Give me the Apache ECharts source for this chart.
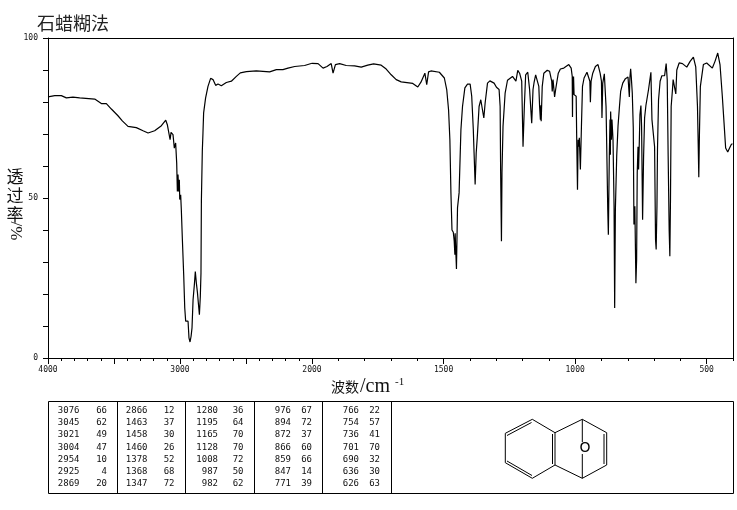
<!DOCTYPE html>
<html lang="zh">
<head>
    <meta charset="UTF-8">
    <title>石蜡糊法</title>
    <script src="https://cdn.jsdelivr.net/npm/echarts@6/dist/echarts.min.js"></script>
    <style>
        *{ margin: 0; padding: 0; }
        body{ background: #fff; }
        #chart{ width: 737px; height: 510px; }
    </style>
</head>
<body>
<div id="chart"></div>
<script>
    // [wavenumber, %T], 4000-2000 part of the axis
    var spectrumHigh = [
        [4000,81.6],[3949,82],[3899,82],[3861,81.3],[3811,81.5],[3760,81.3],[3646,80.9],[3596,79.5],[3558,79.5],
        [3520,77.8],[3470,75.7],[3437,74.1],[3394,72.4],[3331,72],[3280,71],[3242,70.3],[3192,71],[3141,72.6],
        [3128,72.9],[3108,74.3],[3096,72.9],[3083,72.6],[3075,68.2],[3068,70.5],[3053,69.8],[3043,65.6],[3033,67.2],
        [3025,60.9],[3020,52],[3015,57.3],[3010,52],[3005,55.7],[3002,49.5],[2995,51],[2990,46.4],[2982,37],
        [2972,26],[2964,15.6],[2957,11.5],[2947,10.9],[2939,11.5],[2932,6.3],[2924,5],[2916,6.8],[2909,9.4],
        [2901,18.2],[2891,23],[2884,27],[2878,27.6],[2876,23.4],[2868,20.5],[2861,17.2],[2853,13.5],[2846,19.3],
        [2841,26.6],[2838,49],[2831,64.6],[2826,70.3],[2821,76.6],[2806,81.3],[2788,84.9],[2768,87.4],[2750,87],
        [2730,85.2],[2712,85.6],[2687,85.1],[2649,86.1],[2611,86.5],[2573,88],[2543,89.1],[2497,89.5],[2422,89.7],
        [2321,89.4],[2270,90.1],[2220,90.1],[2182,90.6],[2131,91.1],[2056,91.4],[2000,92.1]
    ];
    // 2000-400 part of the axis, twice as wide per wavenumber
    var spectrumLow = [
        [2000,92.1],[1977,92],[1958,90.6],[1943,91.1],[1927,92],[1920,89],[1911,91.7],[1895,92],[1870,91.4],
        [1838,91.3],[1813,90.9],[1788,91.5],[1766,91.9],[1737,91.5],[1718,90.3],[1699,88.5],[1680,87],[1661,86.3],
        [1617,85.8],[1598,84.7],[1586,86.2],[1571,89],[1564,85.4],[1557,89.4],[1548,89.7],[1516,89.3],[1497,87.5],
        [1488,83.9],[1481,77.6],[1476,68.2],[1472,51.6],[1468,40],[1463,39.3],[1459.5,36.5],[1457,32.3],[1456,39],
        [1451,27.8],[1447,46.9],[1441,51.6],[1434,71.4],[1428,78.6],[1419,84.4],[1409,85.6],[1399,85.6],[1393,81.8],
        [1387,71.4],[1384,64],[1380,54.2],[1376,64],[1372,68.8],[1365,78.6],[1358.5,80.7],[1352,80.7],[1347,75],
        [1342,79.7],[1333,85.9],[1324,86.6],[1308,85.9],[1299,84.6],[1289,83.9],[1285,78.6],[1283,57.8],[1280,36.5],
        [1278,57.8],[1274,72.4],[1266,82.8],[1257,86.8],[1238,88],[1232,88.2],[1225,86.5],[1218,89.9],[1211,89],
        [1203,86.5],[1198,66],[1193,78.6],[1188,88.5],[1180,89.3],[1173,83.9],[1169,78.6],[1165,73.4],[1160,83.9],
        [1156,86.1],[1150,88.5],[1143,89],[1138,84.9],[1135,78.6],[1132,74.5],[1130,79],[1129,74],[1125,84.9],
        [1119,89],[1106,89.9],[1097,89.6],[1089,86.5],[1087,83.3],[1084,87],[1078,81.6],[1074,83.9],[1064,89],
        [1056,90.3],[1043,90.6],[1024,91.7],[1015,90.6],[1011,88],[1010,75.3],[1009,88],[1007.5,82.3],[1006,88],
        [1004,82.3],[996,81.8],[994,68.8],[991,52.6],[988.6,68.2],[986,66],[984,68.8],[980,58.9],[976,72.4],
        [972,84.9],[966,87.5],[955,89.3],[948,89],[944,86.5],[942,79.9],[939.3,86.5],[933,89],[923,91.1],[913,91.7],
        [905,89],[900,86.5],[898,75],[895,85.9],[889,88.8],[882.5,78.6],[880,66.7],[876,46.4],[873.7,38.5],[872.4,47.4],
        [870,63.5],[867.4,74.5],[866,63.5],[865,77],[862,68.2],[860,74.5],[856,68.2],[852,47.4],[849.7,15.6],[847,46.4],
        [842,63],[837,72.4],[832,78],[827,83.3],[819,85.9],[809,87.3],[799,87.8],[794,81.6],[791.6,87.8],[789,90.4],
        [786.6,87.8],[782.8,82.8],[779,71.9],[776.5,41.7],[773,47.4],[769,23.4],[766.3,30.7],[764,57.8],[761,66],
        [758.8,58.9],[756,67.7],[753.7,76],[750,78.9],[747.4,72.4],[743.6,43.2],[739.8,63],[736,75],[731,78.9],
        [726,79],[721,83.9],[712,89.3],[708,74.5],[704.5,74.5],[698,66],[694.4,37],[692,33.9],[689,47.4],[687,65],
        [683,80.7],[677,86.5],[670.4,88.2],[660,88.2],[654,92],[650,87],[646.4,63],[642.6,40],[640,31.8],[637.6,49.5],
        [635,78.6],[630,83.9],[627.5,87],[622.4,86.5],[617.4,82.5],[613.6,90],[604.7,92.2],[592,92],[575.7,90.9],
        [563,92.7],[550.5,94],[541.6,91],[535,78.6],[532.8,69.3],[530,56.5],[527.7,69.3],[524,84.9],[512.6,91.7],
        [500,92.2],[478.5,90.6],[468.4,92.7],[458,95.3],[449.4,91.7],[440.6,81.8],[434,73.4],[428,65.6],[420,64.4],
        [413,65.6],[406.5,66.7],[402,67]
    ];

    var highMajorTicks = [2000, 2500, 3000, 3500, 4000];
    var highTickLabels = [2000, 3000, 4000];
    var lowMajorTicks = [500, 1000, 1500, 2000];
    var lowTickLabels = [500, 1000, 1500];
    var yTickLabels = [0, 50, 100];

    // peak table, five columns of seven rows
    var peakWavenumbers = [
        [3076, 3045, 3021, 3004, 2954, 2925, 2869],
        [2866, 1463, 1458, 1460, 1378, 1368, 1347],
        [1280, 1195, 1165, 1128, 1008, 987, 982],
        [976, 894, 872, 866, 859, 847, 771],
        [766, 754, 736, 701, 690, 636, 626]
    ];
    var peakValues = [
        [66, 62, 49, 47, 10, 4, 20],
        [12, 37, 30, 26, 52, 68, 72],
        [36, 64, 70, 70, 72, 50, 62],
        [67, 72, 37, 60, 66, 14, 39],
        [22, 57, 41, 70, 32, 30, 63]
    ];

    var chart = echarts.init(document.getElementById('chart'), null, {renderer: 'canvas'});
    var monoFont = '"DejaVu Sans Mono", monospace';
    var cjkFont = '"Noto Sans CJK SC", sans-serif';
    var black = '#000';

    // two tick axes on each x grid: short ticks every 100 and long ticks with the labels
    function minorAxis(grid, min, max) {
        return {
            type: 'value', gridIndex: grid, position: 'bottom', inverse: true, min: min, max: max, interval: 100,
            axisLine: {show: true, lineStyle: {color: black}},
            axisTick: {show: true, length: 3, inside: false, lineStyle: {color: black}},
            axisLabel: {show: false},
            splitLine: {show: false}
        };
    }
    function majorAxis(grid, min, max, ticks, labels) {
        return {
            type: 'value', gridIndex: grid, position: 'bottom', inverse: true, min: min, max: max,
            axisLine: {show: true, lineStyle: {color: black}},
            axisTick: {show: true, length: 6, customValues: ticks, lineStyle: {color: black}},
            axisLabel: {
                show: true, customValues: labels, margin: 8, color: '#111', fontSize: 8, fontFamily: monoFont,
                formatter: function (v) { return String(v); }
            },
            splitLine: {show: false}
        };
    }
    function topLine(grid, min, max) {
        return {
            type: 'value', gridIndex: grid, position: 'top', inverse: true, min: min, max: max,
            axisLine: {show: true, lineStyle: {color: black}},
            axisTick: {show: false}, axisLabel: {show: false}, splitLine: {show: false}
        };
    }

    // table frame and cells
    var tableGraphics = [{
        type: 'rect', shape: {x: 48.5, y: 401.5, width: 685, height: 92},
        style: {fill: 'none', stroke: black, lineWidth: 1}
    }];
    var dividers = [117.5, 185.5, 254.5, 322.5, 391.5];
    dividers.forEach(function (x) {
        tableGraphics.push({
            type: 'line', shape: {x1: x, y1: 401.5, x2: x, y2: 493.5},
            style: {stroke: black, lineWidth: 1}
        });
    });
    var wnRight = [79.5, 147.5, 218, 291, 359];
    var valRight = [107, 174.5, 243.5, 312, 380];
    var rowY = [410.5, 423, 435, 447.5, 459.5, 472, 484];
    peakWavenumbers.forEach(function (col, c) {
        col.forEach(function (wn, r) {
            tableGraphics.push({
                type: 'text', x: wnRight[c], y: rowY[r],
                style: {text: String(wn), align: 'right', verticalAlign: 'middle', font: '9px ' + monoFont, fill: '#111'}
            });
            tableGraphics.push({
                type: 'text', x: valRight[c], y: rowY[r],
                style: {text: String(peakValues[c][r]), align: 'right', verticalAlign: 'middle', font: '9px ' + monoFont, fill: '#111'}
            });
        });
    });

    // structure drawing
    var bonds = [
        [532.3,419.3,555,432.7],[555,432.7,555,465],[555,465,532.3,478.3],[532.3,478.3,505.3,462.7],
        [505.3,462.7,505.3,433.3],[505.3,433.3,532.3,419.3],
        [507,435.5,531.5,422.5],[507,461,532,475.5],[552.5,434,552.5,464],
        [555,432.7,582.3,419.3],[582.3,419.3,606.7,432.7],[606.7,432.7,606.7,465],[606.7,465,582.3,478.3],
        [582.3,478.3,555,465],[604,434,604,464],
        [582.3,419.3,582.3,442],[582.3,454,582.3,478.3]
    ];
    var moleculeGraphics = bonds.map(function (b) {
        return {
            type: 'line', shape: {x1: b[0], y1: b[1], x2: b[2], y2: b[3]},
            style: {stroke: black, lineWidth: 1}
        };
    });
    moleculeGraphics.push({
        type: 'text', x: 585, y: 448,
        style: {text: 'O', align: 'center', verticalAlign: 'middle', font: '14px "DejaVu Sans", sans-serif', fill: black}
    });

    var labelGraphics = [
        {type: 'text', x: 37, y: 23, style: {text: '石蜡糊法', verticalAlign: 'middle', font: '18px ' + cjkFont, fill: '#222'}},
        {type: 'text', x: 331, y: 387, style: {text: '波数', verticalAlign: 'middle', font: '14px ' + cjkFont, fill: '#111'}},
        {type: 'text', x: 360, y: 387, style: {text: '/cm', verticalAlign: 'middle', font: '20px "Liberation Serif", serif', fill: '#111'}},
        {type: 'text', x: 395, y: 382, style: {text: '-1', verticalAlign: 'middle', font: '11px "Liberation Serif", serif', fill: '#111'}},
        {type: 'text', x: 15, y: 177, style: {text: '透', align: 'center', verticalAlign: 'middle', font: '17px ' + cjkFont, fill: '#111'}},
        {type: 'text', x: 15, y: 196, style: {text: '过', align: 'center', verticalAlign: 'middle', font: '17px ' + cjkFont, fill: '#111'}},
        {type: 'text', x: 15, y: 215, style: {text: '率', align: 'center', verticalAlign: 'middle', font: '17px ' + cjkFont, fill: '#111'}},
        {type: 'text', x: 15, y: 231, rotation: -Math.PI / 2, style: {text: '/%', align: 'center', verticalAlign: 'middle', font: '17px "Liberation Serif", serif', fill: '#111'}}
    ];

    var option = {
        backgroundColor: '#fff',
        animation: false,
        grid: [
            {left: 48, top: 38, width: 264, height: 320},
            {left: 312, top: 38, width: 421, height: 320}
        ],
        xAxis: [
            minorAxis(0, 2000, 4000),
            minorAxis(1, 400, 2000),
            majorAxis(0, 2000, 4000, highMajorTicks, highTickLabels),
            majorAxis(1, 400, 2000, lowMajorTicks, lowTickLabels),
            topLine(0, 2000, 4000),
            topLine(1, 400, 2000)
        ],
        yAxis: [
            {
                type: 'value', gridIndex: 0, min: 0, max: 100, interval: 10,
                axisLine: {show: true, lineStyle: {color: black}},
                axisTick: {show: true, length: 5, lineStyle: {color: black}},
                axisLabel: {show: true, customValues: yTickLabels, margin: 10, color: '#111', fontSize: 8, fontFamily: monoFont},
                splitLine: {show: false}
            },
            {
                type: 'value', gridIndex: 1, position: 'right', min: 0, max: 100,
                axisLine: {show: true, lineStyle: {color: black}},
                axisTick: {show: false}, axisLabel: {show: false}, splitLine: {show: false}
            }
        ],
        series: [
            {
                type: 'line', xAxisIndex: 0, yAxisIndex: 0, data: spectrumHigh, showSymbol: false, silent: true,
                lineStyle: {color: black, width: 1.2}
            },
            {
                type: 'line', xAxisIndex: 1, yAxisIndex: 1, data: spectrumLow, showSymbol: false, silent: true,
                lineStyle: {color: black, width: 1.2}
            }
        ],
        graphic: labelGraphics.concat(tableGraphics, moleculeGraphics)
    };
    chart.setOption(option);
</script>
</body>
</html>
